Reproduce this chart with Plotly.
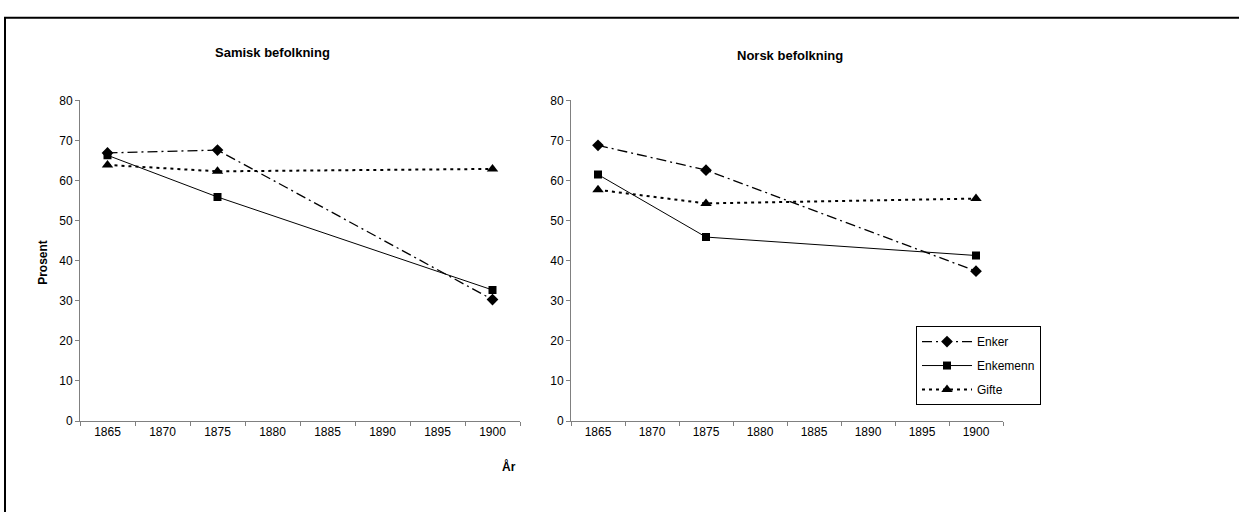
import plotly.graph_objects as go

# ---- data ----
categories = ["1865", "1870", "1875", "1880", "1885", "1890", "1895", "1900"]
years = ["1865", "1875", "1900"]

samisk_enker = [66.9, 67.6, 30.3]
samisk_enkemenn = [66.3, 55.9, 32.7]
samisk_gifte = [63.9, 62.3, 62.9]

norsk_enker = [68.8, 62.6, 37.4]
norsk_enkemenn = [61.5, 45.9, 41.3]
norsk_gifte = [57.7, 54.3, 55.5]

series_names = ["Enker", "Enkemenn", "Gifte"]
y_ticks = [0, 10, 20, 30, 40, 50, 60, 70, 80]

W, H = 1239, 512
FONT = "Liberation Sans, Arial, sans-serif"

styles = {
    "Enker": dict(line=dict(color="black", width=1.3, dash="10px,4px,2px,4px"),
                  marker=dict(symbol="diamond", size=9, color="black")),
    "Enkemenn": dict(line=dict(color="black", width=1, dash="solid"),
                     marker=dict(symbol="square", size=8, color="black")),
    "Gifte": dict(line=dict(color="black", width=2, dash="3px,4px"),
                  marker=dict(symbol="triangle-up", size=10, color="black")),
}

fig = go.Figure()
left = [samisk_enker, samisk_enkemenn, samisk_gifte]
right = [norsk_enker, norsk_enkemenn, norsk_gifte]
for name, vals in zip(series_names, left):
    fig.add_trace(go.Scatter(x=years, y=vals, mode="lines+markers", name=name,
                             legendgroup=name, xaxis="x", yaxis="y", showlegend=False,
                             **styles[name]))
for name, vals in zip(series_names, right):
    fig.add_trace(go.Scatter(x=years, y=vals, mode="lines+markers", name=name,
                             legendgroup=name, xaxis="x2", yaxis="y2", showlegend=True,
                             **styles[name]))

def px_x(p):
    return p / W

def px_y(p):
    return 1 - p / H

axis_common_x = dict(type="category", categoryorder="array", categoryarray=categories,
                     range=[-0.5, 7.5], tickson="boundaries", ticks="outside", ticklen=4,
                     tickcolor="#808080", showline=True, linecolor="#808080", linewidth=1,
                     showgrid=False, zeroline=False, tickfont=dict(size=12, color="black", family=FONT))
axis_common_y = dict(range=[0, 80], tickvals=y_ticks, ticks="outside", ticklen=4,
                     tickcolor="#808080", showline=True, linecolor="#808080", linewidth=1,
                     showgrid=False, zeroline=False, tickfont=dict(size=12, color="black", family=FONT))

fig.update_layout(
    width=W, height=H,
    margin=dict(l=0, r=0, t=0, b=0),
    paper_bgcolor="white", plot_bgcolor="white",
    font=dict(family=FONT, size=12, color="black"),
    xaxis=dict(domain=[px_x(80), px_x(520)], anchor="y", **axis_common_x),
    yaxis=dict(domain=[px_y(425.7), px_y(96)], anchor="x", **axis_common_y),
    xaxis2=dict(domain=[px_x(571), px_x(1003)], anchor="y2", **axis_common_x),
    yaxis2=dict(domain=[px_y(425.7), px_y(96)], anchor="x2", **axis_common_y),
    legend=dict(x=px_x(916), y=px_y(328), xanchor="left", yanchor="top",
                bordercolor="black", borderwidth=1, bgcolor="white",
                font=dict(size=12, family=FONT, color="black"), itemwidth=50,
                tracegroupgap=5),
    showlegend=True,
)

annotations = [
    dict(text="<b>Samisk befolkning</b>", x=px_x(272), y=px_y(47), font=dict(size=13)),
    dict(text="<b>Norsk befolkning</b>", x=px_x(790), y=px_y(50), font=dict(size=13)),
    dict(text="<b>Prosent</b>", x=px_x(43), y=px_y(263), textangle=-90, font=dict(size=12)),
    dict(text="<b>År</b>", x=px_x(509), y=px_y(472), font=dict(size=12)),
]
for a in annotations:
    a.update(xref="paper", yref="paper", showarrow=False, xanchor="center", yanchor="middle")
fig.update_layout(annotations=annotations)

fig.add_shape(type="rect", xref="paper", yref="paper",
              x0=px_x(5), x1=1.05, y0=-0.05, y1=px_y(11),
              line=dict(color="black", width=2), fillcolor="rgba(0,0,0,0)", layer="above")

fig.write_html("out.html", config={"displayModeBar": False},
               post_script="document.body.style.margin='0px';document.body.style.overflow='hidden';")
